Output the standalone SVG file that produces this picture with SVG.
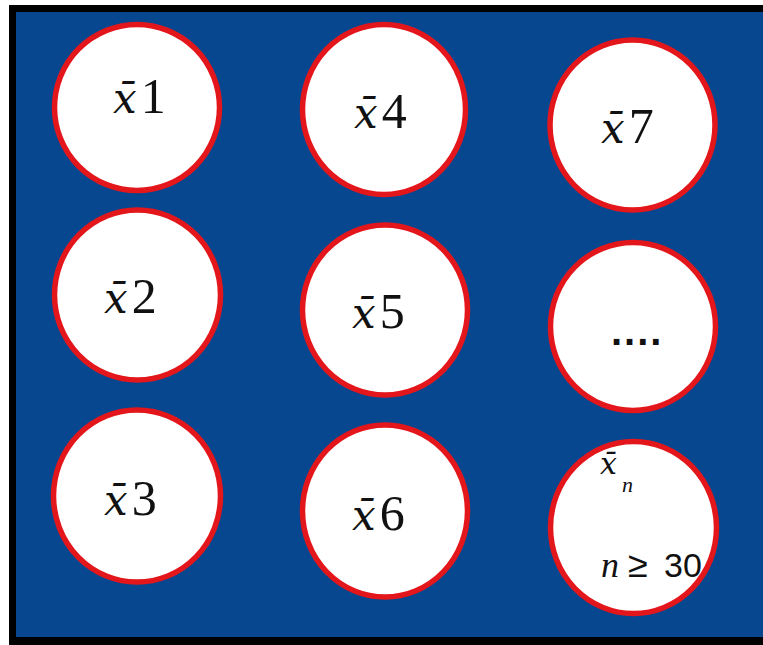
<svg xmlns="http://www.w3.org/2000/svg" width="763" height="645" viewBox="0 0 763 645">
<style>
.c{fill:#ffffff;stroke:#e3161b;stroke-width:5.5}
.t{font-family:"Liberation Serif","Times New Roman",serif;font-size:50px;fill:#111}
.x{font-family:"DejaVu Serif","Liberation Serif",serif;font-style:italic;font-size:42px}
.i{font-style:italic}
.s{font-family:"Liberation Sans",Arial,sans-serif;fill:#111}
</style>
<rect x="0" y="0" width="763" height="645" fill="#ffffff"/>
<rect x="9" y="5" width="754" height="640" fill="#000000"/>
<rect x="16" y="12" width="747" height="625" fill="#074790"/>
<g id="n1"><ellipse class="c" cx="137" cy="107.5" rx="82.5" ry="83"/><text class="t" x="113" y="113"><tspan class="x">x̄</tspan><tspan dx="4">1</tspan></text></g>
<g id="n2"><ellipse class="c" cx="137.5" cy="295" rx="83" ry="85"/><text class="t" x="104" y="313"><tspan class="x">x̄</tspan><tspan dx="4">2</tspan></text></g>
<g id="n3"><ellipse class="c" cx="137" cy="496" rx="83.5" ry="86"/><text class="t" x="104" y="515"><tspan class="x">x̄</tspan><tspan dx="4">3</tspan></text></g>
<g id="n4"><ellipse class="c" cx="384" cy="109.5" rx="81.5" ry="85"/><text class="t" x="354" y="128"><tspan class="x">x̄</tspan><tspan dx="4">4</tspan></text></g>
<g id="n5"><ellipse class="c" cx="385" cy="310" rx="82.5" ry="85"/><text class="t" x="352" y="328"><tspan class="x">x̄</tspan><tspan dx="4">5</tspan></text></g>
<g id="n6"><ellipse class="c" cx="385" cy="511" rx="82.5" ry="86"/><text class="t" x="352" y="530"><tspan class="x">x̄</tspan><tspan dx="4">6</tspan></text></g>
<g id="n7"><ellipse class="c" cx="632.5" cy="125" rx="82.5" ry="85"/><text class="t" x="601" y="143"><tspan class="x">x̄</tspan><tspan dx="4">7</tspan></text></g>
<g id="n8"><ellipse class="c" cx="633" cy="326.5" rx="82.5" ry="84"/><text class="s" x="611" y="345" style="font-size:40px;font-weight:bold;letter-spacing:2px">....</text></g>
<g id="n9"><ellipse class="c" cx="633.5" cy="527.5" rx="83" ry="86"/>
<text class="t x" x="600" y="474" style="font-size:30px">x̄</text>
<text class="t i" x="622" y="492" style="font-size:22px">n</text>
<text class="t i" x="601" y="577" style="font-size:36px">n</text>
<text class="s" x="628" y="577" style="font-size:36px">≥</text>
<text class="s" x="664" y="577" style="font-size:34px">30</text>
</g>
</svg>
